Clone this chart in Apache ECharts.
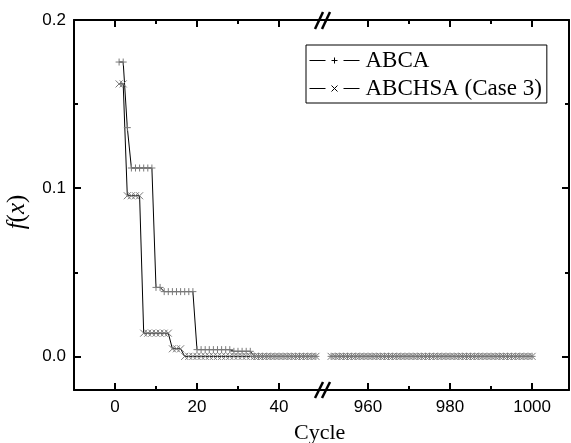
<!DOCTYPE html>
<html>
<head>
<meta charset="utf-8">
<script src="https://cdn.jsdelivr.net/npm/echarts@6/dist/echarts.min.js"></script>
<style>
html,body{margin:0;padding:0;background:#fff;}
#main{width:571px;height:443px;}
</style>
</head>
<body>
<div id="main"></div>
<script>
// cycles shown left and right of the axis break
var cyclesHead = [1,2,3,4,5,6,7,8,9,10,11,12,13,14,15,16,17,18,19,20,21,22,23,24,25,
    26,27,28,29,30,31,32,33,34,35,36,37,38,39,40,41,42,43,44,45,46,47,48,49];
var cyclesTail = [951,952,953,954,955,956,957,958,959,960,961,962,963,964,965,966,967,968,969,970,
    971,972,973,974,975,976,977,978,979,980,981,982,983,984,985,986,987,988,989,990,
    991,992,993,994,995,996,997,998,999,1000];

var abcaHead = [0.175,0.175,0.136,0.112,0.112,0.112,0.112,0.112,0.112,0.041,0.041,
    0.0385,0.0385,0.0385,0.0385,0.0385,0.0385,0.0385,0.0385,
    0.004,0.004,0.004,0.004,0.004,0.004,0.004,0.004,0.004,
    0.003,0.003,0.003,0.003,0.003,
    0,0,0,0,0,0,0,0,0,0,0,0,0,0,0,0];
var abchsaHead = [0.162,0.162,0.0955,0.0955,0.0955,0.0955,
    0.0138,0.0138,0.0138,0.0138,0.0138,0.0138,0.0138,
    0.0045,0.0045,0.0045,
    0,0,0,0,0,0,0,0,0,0,0,0,0,0,0,0,0,0,0,0,0,0,0,0,0,0,0,0,0,0,0,0,0];
var abcaTail = [0,0,0,0,0,0,0,0,0,0,0,0,0,0,0,0,0,0,0,0,0,0,0,0,0,
    0,0,0,0,0,0,0,0,0,0,0,0,0,0,0,0,0,0,0,0,0,0,0,0,0];
var abchsaTail = [0,0,0,0,0,0,0,0,0,0,0,0,0,0,0,0,0,0,0,0,0,0,0,0,0,
    0,0,0,0,0,0,0,0,0,0,0,0,0,0,0,0,0,0,0,0,0,0,0,0,0];

var xMajorHead = [0,20,40], xMinorHead = [10,30];
var xMajorTail = [960,980,1000], xMinorTail = [970,990];
var yMajor = [0,0.1,0.2], yMinor = [0.05,0.15];

var seriesNames = ['ABCA','ABCHSA (Case 3)'];

var plusPath = 'path://M0,5L10,5M5,0L5,10';
var crossPath = 'path://M0,0L10,10M0,10L10,0';
// legend glyphs: line, marker, line
var plusIcon = 'path://M0,5L16,5M22,5L28,5M25,2L25,8M34,5L50,5M25,1L25,1M25,9L25,9';
var crossIcon = 'path://M0,5L16,5M22,2L28,8M22,8L28,2M34,5L50,5M25,1L25,1M25,9L25,9';

function pairs(xs, ys) {
    var out = [];
    for (var i = 0; i < xs.length; i++) {
        out.push([xs[i], ys[i]]);
    }
    return out;
}

function xAxisSet(grid, min, max, major, minor) {
    var list = [];
    ['bottom','top'].forEach(function (pos) {
        list.push({
            type: 'value', gridIndex: grid, position: pos, min: min, max: max,
            axisLine: {show: true, onZero: false, lineStyle: {color: '#000', width: 2}},
            splitLine: {show: false},
            axisTick: {show: true, inside: true, length: 7, customValues: major,
                lineStyle: {color: '#000', width: 2}},
            axisLabel: {show: pos === 'bottom', customValues: major, margin: 9,
                color: '#000', fontSize: 17, fontFamily: 'Liberation Sans',
                formatter: function (v) { return String(v); }}
        });
        list.push({
            type: 'value', gridIndex: grid, position: pos, min: min, max: max,
            axisLine: {show: false, onZero: false},
            splitLine: {show: false},
            axisTick: {show: true, inside: true, length: 4, customValues: minor,
                lineStyle: {color: '#000', width: 2}},
            axisLabel: {show: false}
        });
    });
    return list;
}

function yAxisSet(grid, pos, labels) {
    var base = {type: 'value', gridIndex: grid, position: pos, min: -0.02, max: 0.2,
        splitLine: {show: false}};
    var major = Object.assign({}, base, {
        axisLine: {show: true, onZero: false, lineStyle: {color: '#000', width: 2}},
        axisTick: {show: true, inside: true, length: 7, customValues: yMajor,
            lineStyle: {color: '#000', width: 2}},
        axisLabel: {show: labels, customValues: yMajor, margin: 8, color: '#000',
            fontSize: 17, fontFamily: 'Liberation Sans',
            formatter: function (v) { return v.toFixed(1); }}
    });
    if (labels) {
        major.name = '{i|f}({i|x})';
        major.nameLocation = 'middle';
        major.nameRotate = 90;
        major.nameGap = 44;
        major.nameTextStyle = {color: '#000', fontSize: 25, fontFamily: 'Liberation Serif',
            padding: [0, 14, 0, 0],
            rich: {i: {fontStyle: 'italic', fontSize: 25, fontFamily: 'Liberation Serif', color: '#000'}}};
    }
    var minor = Object.assign({}, base, {
        axisLine: {show: false, onZero: false},
        axisTick: {show: true, inside: true, length: 4, customValues: yMinor,
            lineStyle: {color: '#000', width: 2}},
        axisLabel: {show: false}
    });
    return [major, minor];
}

function lineSeries(name, symbol, xIdx, yIdx, data) {
    return {
        name: name, type: 'line', xAxisIndex: xIdx, yAxisIndex: yIdx,
        symbol: symbol, symbolSize: 7, showSymbol: true,
        lineStyle: {color: '#000', width: 1},
        itemStyle: {color: 'transparent', borderColor: '#7a7a7a', borderWidth: 1},
        animation: false,
        data: data
    };
}

var chart = echarts.init(document.getElementById('main'));
var option = {
    backgroundColor: '#fff',
    animation: false,
    title: {
        text: 'Cycle', left: 289, top: 417,
        textStyle: {color: '#000', fontSize: 22, fontWeight: 'normal', fontFamily: 'Liberation Serif'}
    },
    legend: {
        orient: 'vertical', left: 306, top: 45,
        data: [
            {name: seriesNames[0], icon: plusIcon,
                itemStyle: {color: 'transparent', borderColor: '#000', borderWidth: 1}},
            {name: seriesNames[1], icon: crossIcon,
                itemStyle: {color: 'transparent', borderColor: '#000', borderWidth: 1}}
        ],
        borderColor: '#000', borderWidth: 1,
        padding: [4, 5, 3, 3],
        itemGap: 5, itemWidth: 52, itemHeight: 8,
        textStyle: {color: '#000', fontSize: 23, fontFamily: 'Liberation Serif'}
    },
    grid: [
        {left: 74, top: 20, width: 248, bottom: 53},
        {left: 322, top: 20, right: 2, bottom: 53}
    ],
    xAxis: xAxisSet(0, -10, 50.49, xMajorHead, xMinorHead)
        .concat(xAxisSet(1, 948.78, 1009, xMajorTail, xMinorTail)),
    yAxis: yAxisSet(0, 'left', true).concat(yAxisSet(1, 'right', false)),
    series: [
        lineSeries(seriesNames[0], plusPath, 0, 0, pairs(cyclesHead, abcaHead)),
        lineSeries(seriesNames[1], crossPath, 0, 0, pairs(cyclesHead, abchsaHead)),
        lineSeries(seriesNames[0], plusPath, 4, 2, pairs(cyclesTail, abcaTail)),
        lineSeries(seriesNames[1], crossPath, 4, 2, pairs(cyclesTail, abchsaTail))
    ],
    graphic: [
        {type: 'line', shape: {x1: 315, y1: 398, x2: 323, y2: 382}, style: {stroke: '#000', lineWidth: 2.5}, z: 100},
        {type: 'line', shape: {x1: 322, y1: 398, x2: 330, y2: 382}, style: {stroke: '#000', lineWidth: 2.5}, z: 100},
        {type: 'line', shape: {x1: 315, y1: 29, x2: 323, y2: 12}, style: {stroke: '#000', lineWidth: 2.5}, z: 100},
        {type: 'line', shape: {x1: 322, y1: 29, x2: 330, y2: 12}, style: {stroke: '#000', lineWidth: 2.5}, z: 100}
    ]
};
chart.setOption(option);
</script>
</body>
</html>
